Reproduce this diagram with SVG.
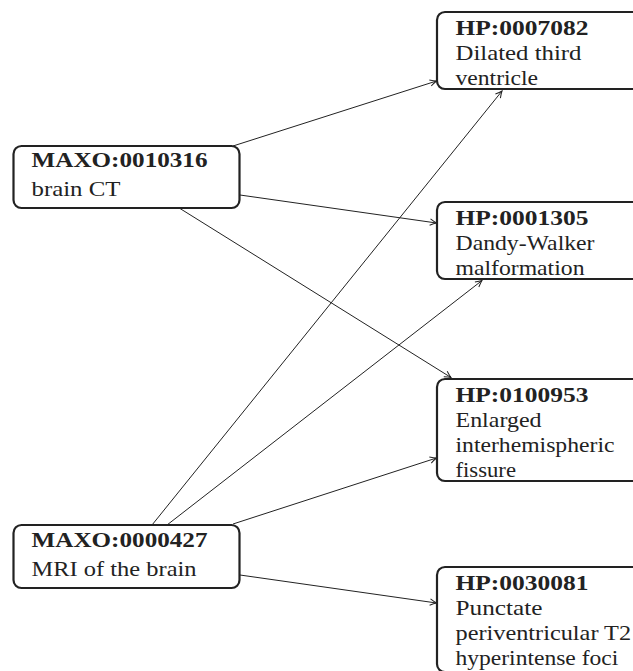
<svg xmlns="http://www.w3.org/2000/svg" width="633" height="671" viewBox="0 0 633 671">
<defs>
<style>
.box{fill:#fff;stroke:#222;stroke-width:2.2}
.b{font-family:"Liberation Serif","Times New Roman",serif;font-weight:bold;font-size:22px;fill:#222}
.r{font-family:"Liberation Serif","Times New Roman",serif;font-size:22px;fill:#222}
.e{fill:none;stroke:#222;stroke-width:1}
</style>
<marker id="arr" viewBox="-8 -5 10 10" refX="0" refY="0" markerWidth="10" markerHeight="10" markerUnits="userSpaceOnUse" orient="auto">
<path d="M-6.5,-3.2 Q-2.5,-0.9 0,0 Q-2.5,0.9 -6.5,3.2" fill="none" stroke="#222" stroke-width="1"/>
</marker>
</defs>
<rect width="633" height="671" fill="#fff"/>
<g id="connectors">
<path class="e" d="M233,146 L436.5,81" marker-end="url(#arr)"/>
<path class="e" d="M240,195 L436.5,223" marker-end="url(#arr)"/>
<path class="e" d="M180,208.5 L451,377.5" marker-end="url(#arr)"/>
<path class="e" d="M152,525 L502,91" marker-end="url(#arr)"/>
<path class="e" d="M167,525 L482,280.5" marker-end="url(#arr)"/>
<path class="e" d="M233,524 L436.5,458" marker-end="url(#arr)"/>
<path class="e" d="M240,575 L436.5,603" marker-end="url(#arr)"/>
</g>
<g id="maxo0010316">
<rect class="box" x="13.5" y="146" width="226" height="62" rx="8"/>
<text class="b" x="31.5" y="167" textLength="176" lengthAdjust="spacingAndGlyphs">MAXO:0010316</text>
<text class="r" x="31.5" y="195.5" textLength="89" lengthAdjust="spacingAndGlyphs">brain CT</text>
</g>
<g id="maxo0000427">
<rect class="box" x="13.5" y="525" width="226" height="63" rx="8"/>
<text class="b" x="31.5" y="547" textLength="176" lengthAdjust="spacingAndGlyphs">MAXO:0000427</text>
<text class="r" x="31.5" y="576" textLength="165" lengthAdjust="spacingAndGlyphs">MRI of the brain</text>
</g>
<g id="hp0007082">
<rect class="box" x="437" y="12" width="230" height="77" rx="8"/>
<text class="b" x="455.5" y="35" textLength="133" lengthAdjust="spacingAndGlyphs">HP:0007082</text>
<text class="r" x="455.5" y="60" textLength="126" lengthAdjust="spacingAndGlyphs">Dilated third</text>
<text class="r" x="455.5" y="85" textLength="82.6" lengthAdjust="spacingAndGlyphs">ventricle</text>
</g>
<g id="hp0001305">
<rect class="box" x="437" y="202" width="230" height="77" rx="8"/>
<text class="b" x="455.5" y="225" textLength="133" lengthAdjust="spacingAndGlyphs">HP:0001305</text>
<text class="r" x="455.5" y="250" textLength="139" lengthAdjust="spacingAndGlyphs">Dandy-Walker</text>
<text class="r" x="455.5" y="275" textLength="129" lengthAdjust="spacingAndGlyphs">malformation</text>
</g>
<g id="hp0100953">
<rect class="box" x="437" y="379" width="230" height="102" rx="8"/>
<text class="b" x="455.5" y="402" textLength="133" lengthAdjust="spacingAndGlyphs">HP:0100953</text>
<text class="r" x="455.5" y="427" textLength="86" lengthAdjust="spacingAndGlyphs">Enlarged</text>
<text class="r" x="455.5" y="452" textLength="159" lengthAdjust="spacingAndGlyphs">interhemispheric</text>
<text class="r" x="455.5" y="477" textLength="60.5" lengthAdjust="spacingAndGlyphs">fissure</text>
</g>
<g id="hp0030081">
<rect class="box" x="437" y="567" width="230" height="105" rx="8"/>
<text class="b" x="455.5" y="590" textLength="133" lengthAdjust="spacingAndGlyphs">HP:0030081</text>
<text class="r" x="455.5" y="615" textLength="87" lengthAdjust="spacingAndGlyphs">Punctate</text>
<text class="r" x="455.5" y="640" textLength="175.6" lengthAdjust="spacingAndGlyphs">periventricular T2</text>
<text class="r" x="455.5" y="665" textLength="162.8" lengthAdjust="spacingAndGlyphs">hyperintense foci</text>
</g>
</svg>
